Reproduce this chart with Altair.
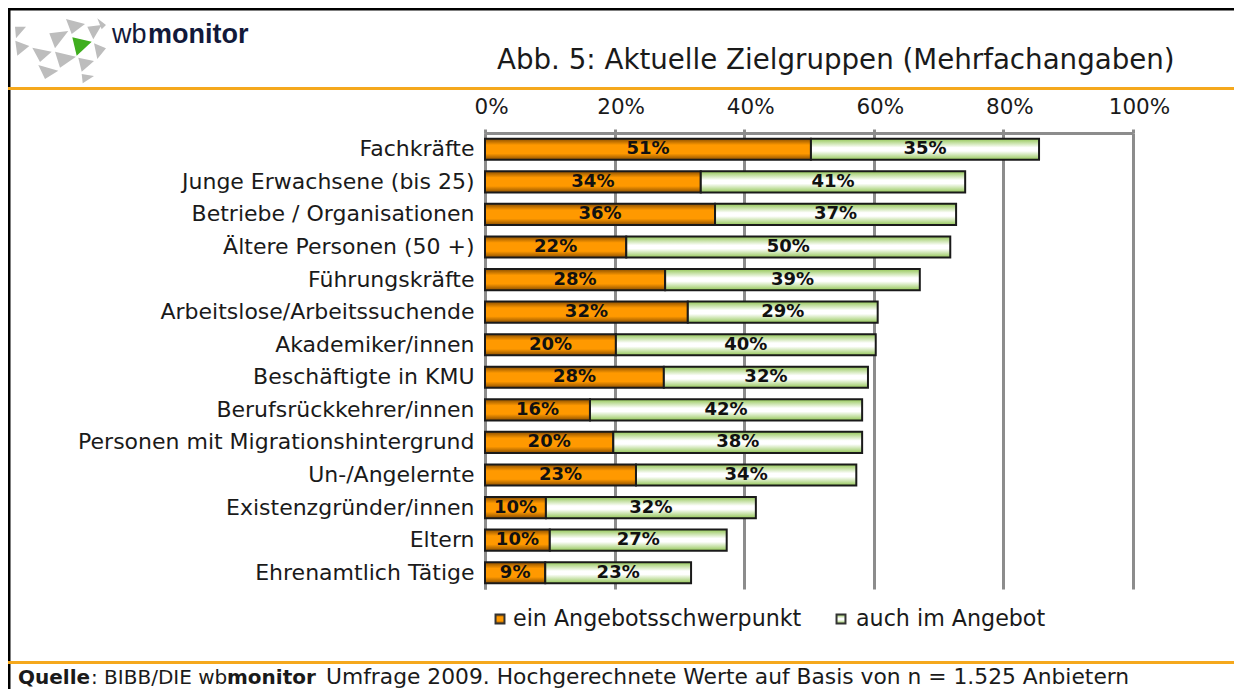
import altair as alt
import pandas as pd

categories = ["Fachkräfte", "Junge Erwachsene (bis 25)", "Betriebe / Organisationen",
              "Ältere Personen (50 +)", "Führungskräfte", "Arbeitslose/Arbeitssuchende",
              "Akademiker/innen", "Beschäftigte in KMU", "Berufsrückkehrer/innen",
              "Personen mit Migrationshintergrund", "Un-/Angelernte", "Existenzgründer/innen",
              "Eltern", "Ehrenamtlich Tätige"]
schwerpunkt = [50.3, 33.3, 35.5, 21.8, 27.8, 31.3, 20.2, 27.6, 16.2, 19.8, 23.3, 9.4, 10.0, 9.3]
angebot = [35.2, 40.8, 37.2, 50.0, 39.3, 29.3, 40.1, 31.5, 42.0, 38.4, 34.0, 32.4, 27.3, 22.5]
label_a = [51, 34, 36, 22, 28, 32, 20, 28, 16, 20, 23, 10, 10, 9]
label_b = [35, 41, 37, 50, 39, 29, 40, 32, 42, 38, 34, 32, 27, 23]

FONT = "DejaVu Sans"
LOGO_FONT = "Liberation Sans"
OX, OY, W, H = 485, 133, 648, 456
ORANGE = "#f5a81c"
GREY = "#8c8c8c"
NAVY = "#12193a"

def px(v): return alt.value(v - OX)
def py(v): return alt.value(v - OY)

df = pd.DataFrame({
    "cat": categories,
    "a0": [0.0] * 14,
    "a1": schwerpunkt,
    "b1": [a + b for a, b in zip(schwerpunkt, angebot)],
    "la": [f"{v}%" for v in label_a],
    "lb": [f"{v}%" for v in label_b],
})
df["am"] = df.a1 / 2
df["bm"] = (df.a1 + df.b1) / 2

grad_o = alt.Gradient(gradient="linear", x1=0, x2=0, y1=0, y2=1, stops=[
    alt.GradientStop(color="#8a4e00", offset=0), alt.GradientStop(color="#ff9900", offset=0.3),
    alt.GradientStop(color="#ff9900", offset=0.7), alt.GradientStop(color="#8a4e00", offset=1)])
grad_g = alt.Gradient(gradient="linear", x1=0, x2=0, y1=0, y2=1, stops=[
    alt.GradientStop(color="#93c656", offset=0), alt.GradientStop(color="#ffffff", offset=0.42),
    alt.GradientStop(color="#ffffff", offset=0.58), alt.GradientStop(color="#93c656", offset=1)])

y_enc = alt.Y("cat:N", sort=categories, title=None,
              scale=alt.Scale(paddingInner=0.35, paddingOuter=0.175),
              axis=alt.Axis(orient="left", domainColor=GREY, domainWidth=3, ticks=False, grid=False,
                            labelFont=FONT, labelFontSize=22, labelColor="#1a1a1a", labelPadding=11,
                            labelLimit=470))
x_enc = alt.X("a0:Q", title=None, scale=alt.Scale(domain=[0, 100], nice=False),
              axis=alt.Axis(orient="top", values=[0, 20, 40, 60, 80, 100], format=".0f",
                            labelExpr="datum.value + '%'",
                            domainColor=GREY, domainWidth=3, tickColor=GREY, tickWidth=3, tickSize=4,
                            gridColor=GREY, gridWidth=3, labelFont=FONT, labelFontSize=21.5,
                            labelColor="#1a1a1a", labelPadding=11, labelOffset=6,
                            labelFlush=False, labelOverlap=False))

base = alt.Chart(df)
bars_a = base.mark_bar(fill=grad_o, stroke="#1a1a1a", strokeWidth=2).encode(x=x_enc, x2="a1:Q", y=y_enc)
bars_b = base.mark_bar(fill=grad_g, stroke="#1a1a1a", strokeWidth=2).encode(
    x=alt.X("a1:Q"), x2="b1:Q", y=alt.Y("cat:N", sort=categories))
txt_a = base.mark_text(font=FONT, fontWeight="bold", fontSize=18, color="#111", baseline="middle").encode(
    x="am:Q", y=alt.Y("cat:N", sort=categories), text="la:N")
txt_b = base.mark_text(font=FONT, fontWeight="bold", fontSize=18, color="#111", baseline="middle").encode(
    x="bm:Q", y=alt.Y("cat:N", sort=categories), text="lb:N")

one = pd.DataFrame({"k": [0]})
def rule(x1, x2, y1, y2, color, w):
    return alt.Chart(one).mark_rule(color=color, strokeWidth=w).encode(
        x=px(x1), x2=px(x2), y=py(y1), y2=py(y2))
def label(x, y, t, size, weight="normal", color="#1a1a1a", font=FONT):
    return alt.Chart(one).mark_text(font=font, fontSize=size, fontWeight=weight, color=color,
                                    align="left", baseline="alphabetic").encode(
        x=px(x), y=py(y), text=alt.value(t))
def swatch(x, y, fill):
    return alt.Chart(one).mark_point(shape="square", filled=True, fill=fill, stroke="#333", strokeWidth=2,
                                     size=80, opacity=1).encode(x=px(x), y=py(y))

tri_grey = [[(45, 80), (78, 80), (48, 115)], [(46, 122), (88, 138), (52, 167)],
            [(97, 143), (155, 155), (120, 186)], [(148, 100), (205, 93), (165, 145)],
            [(165, 155), (228, 170), (180, 203)], [(115, 195), (175, 212), (135, 237)],
            [(198, 57), (255, 72), (215, 102)], [(262, 80), (305, 75), (280, 118)],
            [(292, 55), (318, 75), (305, 88)], [(282, 130), (318, 145), (292, 177)],
            [(235, 173), (282, 183), (245, 215)], [(245, 222), (282, 228), (248, 250)]]
tri_green = [[(217, 112), (275, 125), (230, 167)]]
def tri_path(tris):
    return " ".join("M%.1f %.1f L%.1f %.1f L%.1f %.1f Z" % (a[0]/3, a[1]/3, b[0]/3, b[1]/3, c[0]/3, c[1]/3)
                    for a, b, c in tris)
def logo(tris, color):
    return alt.Chart(one).mark_point(shape=tri_path(tris), filled=True, fill=color, strokeWidth=0,
                                     size=4, opacity=1).encode(x=px(0), y=py(0))

layers = [
    bars_a, bars_b, txt_a, txt_b,
    rule(8, 1234, 9, 9, "#000000", 3),
    rule(9, 9, 8, 689, "#000000", 3),
    rule(8, 1234, 88.5, 88.5, ORANGE, 3),
    rule(8, 1234, 662.5, 662.5, ORANGE, 3),
    logo(tri_grey, "#bdbdbd"), logo(tri_green, "#3fae1e"),
    label(112, 43, "wb", 27, color=NAVY, font=LOGO_FONT), label(148, 43, "monitor", 27, "bold", NAVY, LOGO_FONT),
    label(497, 69, "Abb. 5: Aktuelle Zielgruppen (Mehrfachangaben)", 27.7),
    swatch(500, 619, grad_o), label(513, 626, "ein Angebotsschwerpunkt", 22.2),
    swatch(841, 619, grad_g), label(856, 626, "auch im Angebot", 22.2),
    label(18, 684, "Quelle", 20, "bold"),
    label(91, 684, ": BIBB/DIE wb", 20),
    label(227, 684, "monitor", 20, "bold"),
    label(326, 684, "Umfrage 2009. Hochgerechnete Werte auf Basis von n = 1.525 Anbietern", 21.8),
]

chart = alt.layer(*layers).properties(
    width=W, height=H,
    padding={"left": OX - 8, "top": OY - 8, "right": 1226 - (OX - 8) - W, "bottom": 681 - (OY - 8) - H},
    autosize=alt.AutoSizeParams(type="none", contains="content"),
).configure_view(stroke=None)

chart.save("out.html", embed_options={"renderer": "svg", "actions": False})
